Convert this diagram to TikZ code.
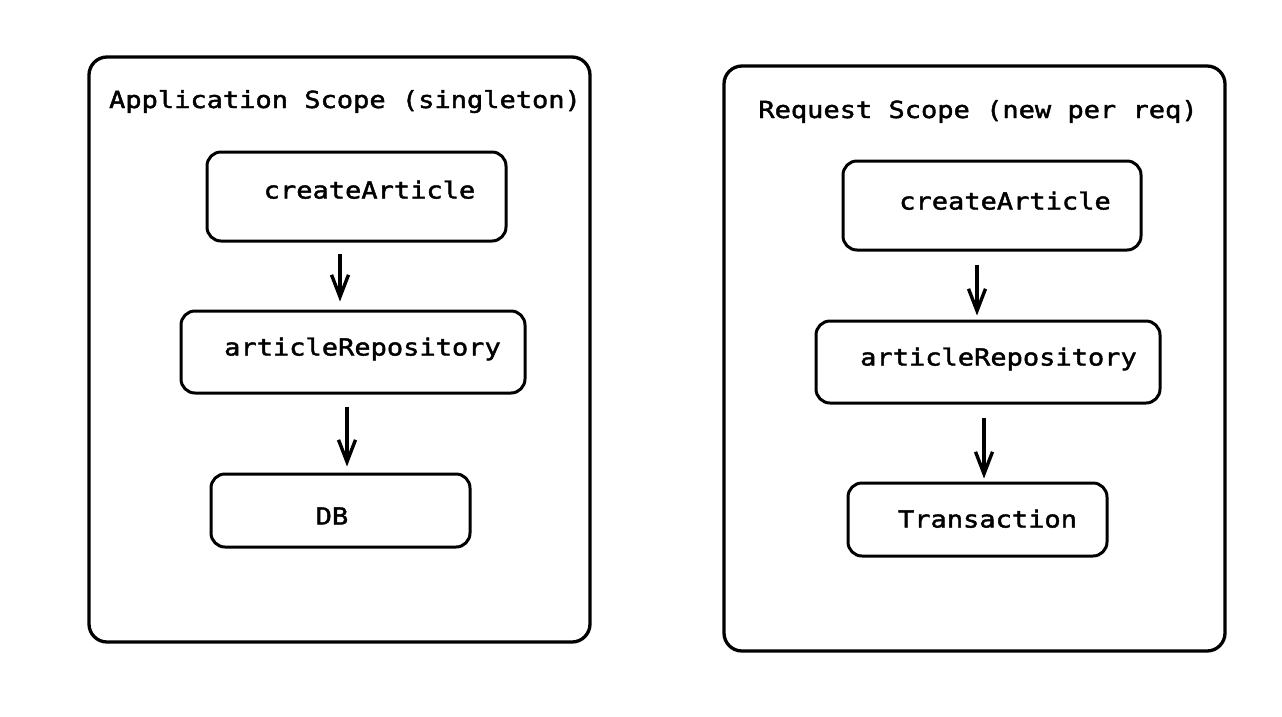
\documentclass[tikz,border=0pt]{standalone}
\usepackage{fontspec}
\newfontfamily\diagmono[FakeStretch=1.15,FakeBold=1.8]{DejaVu Sans Mono}
\usetikzlibrary{arrows.meta}
\tikzset{
  outerbox/.style={draw=black, line width=3.3pt, rounded corners=18pt, inner sep=0pt},
  innerbox/.style={draw=black, line width=3pt, rounded corners=14pt, inner sep=0pt},
  lbl/.style={inner sep=0pt, anchor=base, font=\diagmono\fontsize{23.5}{28}\selectfont, text=black},
  arr/.style={line width=4pt, -{Straight Barb[length=22pt,width=17pt,line width=3.4pt]}}
}
\begin{document}
\begin{tikzpicture}[x=1pt,y=-1pt]
\useasboundingbox (0,0) rectangle (1282,716);
% left scope
\node[outerbox, minimum width=501pt, minimum height=585pt] (appscope) at (339.5,349.5) {};
\node[lbl] (apptitle) at (345,108) {Application Scope (singleton)};
\node[innerbox, minimum width=299pt, minimum height=89pt] (ca1) at (356.5,196.5) {};
\node[lbl] (ca1t) at (369.5,198.5) {createArticle};
\node[innerbox, minimum width=344pt, minimum height=82pt] (ar1) at (353,352) {};
\node[lbl] (ar1t) at (362.5,355.5) {articleRepository};
\node[innerbox, minimum width=259pt, minimum height=73pt] (db) at (340.5,510.5) {};
\node[lbl] (dbt) at (332,524.5) {DB};
\draw[arr, shorten <=11pt, shorten >=8pt] ([xshift=-16.5pt]ca1.south) -- ([xshift=-13pt]ar1.north);
\draw[arr, shorten <=12pt, shorten >=6pt] ([xshift=-6pt]ar1.south) -- ([xshift=6.5pt]db.north);
% right scope
\node[outerbox, minimum width=501pt, minimum height=585pt] (reqscope) at (974.5,358.5) {};
\node[lbl] (reqtitle) at (978,118) {Request Scope (new per req)};
\node[innerbox, minimum width=298pt, minimum height=89pt] (ca2) at (992,205.5) {};
\node[lbl] (ca2t) at (1005,209.5) {createArticle};
\node[innerbox, minimum width=344pt, minimum height=82pt] (ar2) at (988,362) {};
\node[lbl] (ar2t) at (998.5,365.5) {articleRepository};
\node[innerbox, minimum width=259pt, minimum height=73pt] (tr) at (977.5,519.5) {};
\node[lbl] (trt) at (987.5,527.5) {Transaction};
\draw[arr, shorten <=13pt, shorten >=4pt] ([xshift=-15pt]ca2.south) -- ([xshift=-11pt]ar2.north);
\draw[arr, shorten <=13pt, shorten >=3pt] ([xshift=-4pt]ar2.south) -- ([xshift=6.5pt]tr.north);
\end{tikzpicture}
\end{document}
